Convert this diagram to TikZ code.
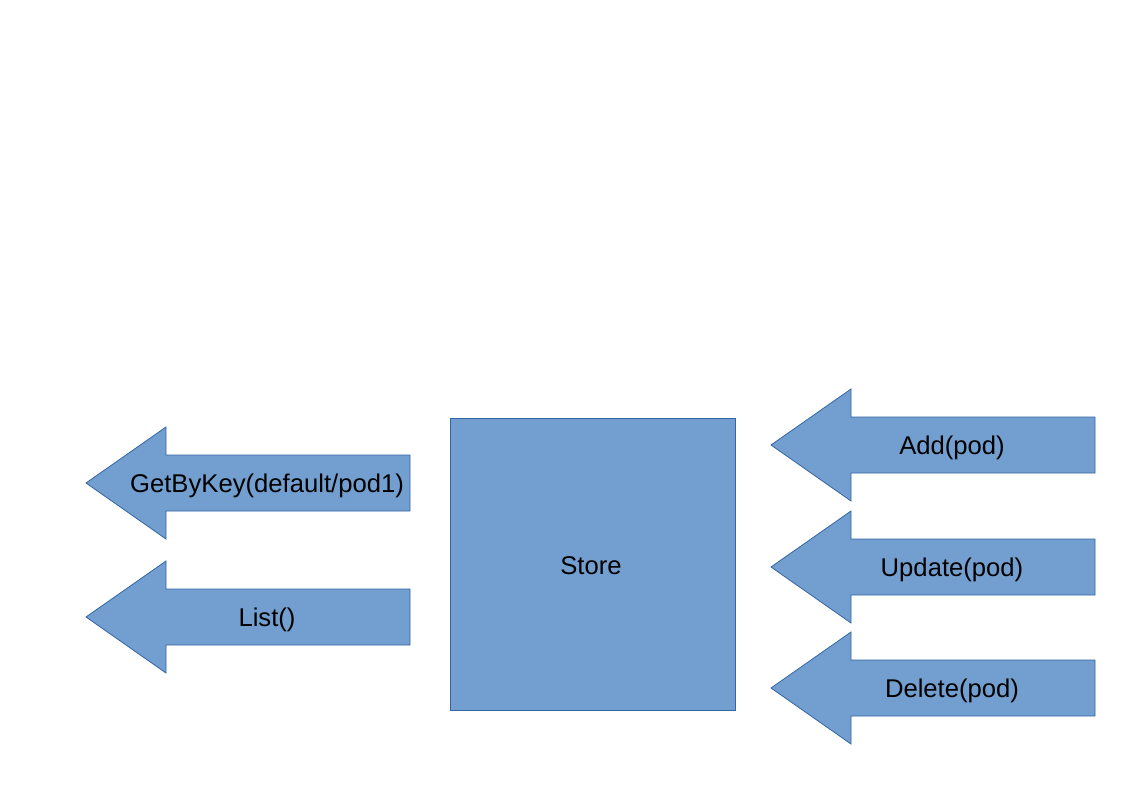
\documentclass[tikz,border=0pt]{standalone}
\usepackage{fontspec}
\setmainfont{Liberation Sans}
\usepackage{tikz}
\usetikzlibrary{positioning}
\definecolor{flechablue}{HTML}{729FCF}
\definecolor{bordeblue}{HTML}{3465A4}
\tikzset{
  forma/.style={
    draw=bordeblue,
    fill=flechablue,
    line width=0.6pt
  },
  texto/.style={
    align=center,
    inner sep=0pt,
    font=\fontsize{19.3pt}{23pt}\selectfont
  }
}

\begin{document}
\begin{tikzpicture}[x=0.26447mm,y=-0.26447mm]
\useasboundingbox (0,0) rectangle (1123,794);
% almacen central
\node[forma,minimum width=285*0.26447mm,minimum height=292*0.26447mm,inner sep=0pt] (store) at (592.5,564) {};
\node[texto] (storelbl) at (591,566) {Store};
% flechas de lectura
\draw[forma] (86,483) -- (166,427) -- (166,455) -- (410,455) -- (410,511) -- (166,511) -- (166,539) -- cycle;
\node[texto] (getbykey) at (267,486) {GetByKey(default/pod1)};
\draw[forma] (86,617) -- (166,561) -- (166,589) -- (410,589) -- (410,645) -- (166,645) -- (166,673) -- cycle;
\node[texto] (list) at (267,620) {List()};
% flechas de escritura
\draw[forma] (771,445) -- (851,389) -- (851,417) -- (1095,417) -- (1095,473) -- (851,473) -- (851,501) -- cycle;
\node[texto] (add) at (952,448) {Add(pod)};
\draw[forma] (771,567) -- (851,511) -- (851,539) -- (1095,539) -- (1095,595) -- (851,595) -- (851,623) -- cycle;
\node[texto] (update) at (952,570) {Update(pod)};
\draw[forma] (771,688) -- (851,632) -- (851,660) -- (1095,660) -- (1095,716) -- (851,716) -- (851,744) -- cycle;
\node[texto] (delete) at (952,691) {Delete(pod)};
\end{tikzpicture}
\end{document}
